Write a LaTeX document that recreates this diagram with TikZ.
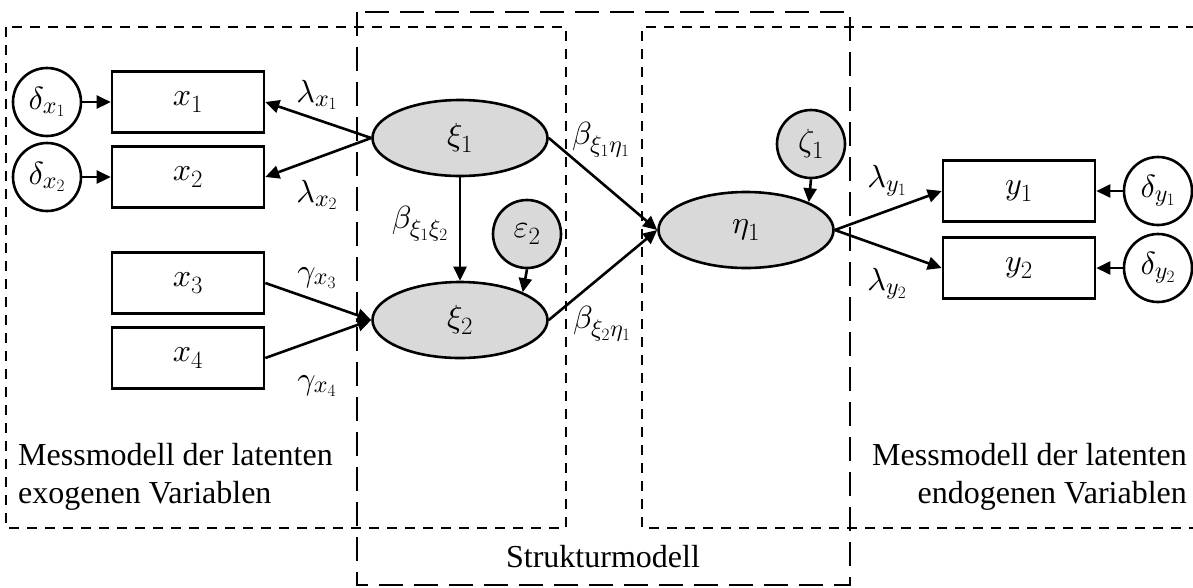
\documentclass[tikz,border=0pt]{standalone}
\usepackage{fontspec}
\setmainfont{Liberation Serif}
\DeclareFontFamily{OML}{cmmx}{\skewchar\font=127}
\DeclareFontShape{OML}{cmmx}{m}{it}{<-6>cmmi5 <6-9>cmmi7 <9->cmmi10}{}
\DeclareSymbolFont{letters}{OML}{cmmx}{m}{it}
\DeclareMathSizes{32}{32}{24}{19}
\usetikzlibrary{arrows.meta,shapes.geometric}
\definecolor{latentgrey}{RGB}{217,217,217}
\tikzset{
  nodebase/.style={line width=2.6pt, draw=black, inner sep=0pt, font=\fontsize{32}{38}\selectfont},
  obsbox/.style={nodebase, rectangle, minimum width=152pt, minimum height=61pt},
  errc/.style={nodebase, circle, minimum size=68pt},
  errg/.style={errc, fill=latentgrey},
  latent/.style={nodebase, ellipse, fill=latentgrey, minimum width=175pt, minimum height=76pt},
  arr/.style={line width=2.6pt, -{Triangle[length=14pt,width=13pt]}},
  lbl/.style={inner sep=0pt, font=\fontsize{32}{38}\selectfont},
  txt/.style={inner sep=0pt, font=\fontsize{32}{38}\selectfont},
  shortdash/.style={line width=2.5pt, dash pattern=on 10pt off 8pt},
  longdash/.style={line width=2.5pt, dash pattern=on 24pt off 11pt},
}
\begin{document}
\begin{tikzpicture}[x=1pt,y=-1pt]
\useasboundingbox (0,0) rectangle (1193,587);
% dashed regions
\draw[shortdash] (6,27) rectangle (566,528);
\draw[shortdash] (1196,27) -- (642,27) -- (642,528) -- (1196,528);
\draw[longdash] (357,12) rectangle (850,585);
% nodes
\node[errc] (dx1) at (47,102) {$\delta_{x_1}$};
\node[errc] (dx2) at (47,177) {$\delta_{x_2}$};
\node[obsbox] (x1) at (188,102) {$x_1$};
\node[obsbox] (x2) at (188,177) {$x_2$};
\node[obsbox] (x3) at (188,283) {$x_3$};
\node[obsbox] (x4) at (188,358) {$x_4$};
\node[latent] (xi1) at (460,138) {$\xi_1$};
\node[latent] (xi2) at (460,320) {$\xi_2$};
\node[errg] (eps2) at (527,234) {$\varepsilon_2$};
\node[latent] (eta1) at (746,230) {$\eta_1$};
\node[errg] (zeta1) at (811,144) {$\zeta_1$};
\node[obsbox] (y1) at (1019,191) {$y_1$};
\node[obsbox] (y2) at (1019,268) {$y_2$};
\node[errc] (dy1) at (1158,191) {$\delta_{y_1}$};
\node[errc] (dy2) at (1158,268) {$\delta_{y_2}$};
% connectors
\draw[arr] (dx1) -- (x1);
\draw[arr] (dx2) -- (x2);
\draw[arr] (xi1.west) -- (x1.east);
\draw[arr] (xi1.west) -- (x2.east);
\draw[arr] (x3.east) -- (xi2.west);
\draw[arr] (x4.east) -- (xi2.west);
\draw[arr] (xi1.south) -- (xi2.north);
\draw[arr] (eps2.south) -- (xi2.north east);
\draw[arr] (xi1.east) -- (eta1.west);
\draw[arr] (xi2.east) -- (eta1.west);
\draw[arr] (zeta1.south) -- (eta1.north east);
\draw[arr] (eta1.east) -- (y1.west);
\draw[arr] (eta1.east) -- (y2.west);
\draw[arr] (dy1) -- (y1);
\draw[arr] (dy2) -- (y2);
% labels
\node[lbl] (l1) at (317,95) {$\lambda_{x_1}$};
\node[lbl] (l2) at (317,195) {$\lambda_{x_2}$};
\node[lbl] (g3) at (317,278) {$\gamma_{x_3}$};
\node[lbl] (g4) at (317,386) {$\gamma_{x_4}$};
\node[lbl] (b12) at (420,224) {$\beta_{\xi_1\xi_2}$};
\node[lbl] (b1e) at (601,140) {$\beta_{\xi_1\eta_1}$};
\node[lbl] (b2e) at (602,324) {$\beta_{\xi_2\eta_1}$};
\node[lbl] (ly1) at (887,181) {$\lambda_{y_1}$};
\node[lbl] (ly2) at (887,284) {$\lambda_{y_2}$};
% region texts
\node[txt, anchor=base west] (t1) at (18,465) {Messmodell der latenten};
\node[txt, anchor=base west] (t2) at (18,503) {exogenen Variablen};
\node[txt, anchor=base east] (t3) at (1187,465) {Messmodell der latenten};
\node[txt, anchor=base east] (t4) at (1187,503) {endogenen Variablen};
\node[txt, anchor=base] (t5) at (603,567) {Strukturmodell};
\end{tikzpicture}
\end{document}
